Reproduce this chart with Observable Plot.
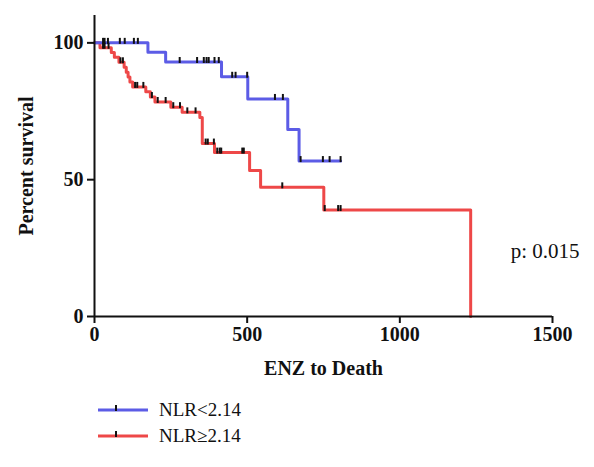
<!DOCTYPE html>
<html>
<head>
<meta charset="utf-8">
<script src="https://cdn.jsdelivr.net/npm/d3@7"></script>
<script src="https://cdn.jsdelivr.net/npm/@observablehq/plot@0.6"></script>
<style>
  html, body { margin: 0; padding: 0; background: #fff; }
  #chart { width: 594px; }
  .legend { font-family: "Liberation Serif", serif; font-size: 19px; color: #111; position: relative; height: 77px; }
  .item { position: absolute; left: 97px; display: flex; align-items: center; }
  .item svg { margin-right: 10px; }
</style>
</head>
<body>
<div id="chart"></div>
<script>
// Kaplan–Meier step data
const blueName = "NLR<2.14";
const redName = "NLR\u22652.14";
const blueTime = [0, 175, 233, 416, 502, 633, 670, 806];
const blueSurv = [100, 96.6, 93.0, 87.6, 79.5, 68.3, 56.8, 56.8];
const redTime = [0, 18, 55, 65, 80, 97, 104, 110, 116, 125, 168, 183, 198, 250, 287, 345, 353, 393, 508, 544, 751, 1232];
const redSurv = [100, 98.2, 96.5, 94.7, 92.9, 91.1, 89.3, 87.5, 85.7, 83.9, 82.1, 80.2, 78.4, 76.5, 74.6, 72.7, 63.2, 59.9, 53.4, 47.2, 38.9, 0];
// censored observations
const blueCensorTime = [28, 33, 44, 83, 99, 129, 142, 279, 336, 358, 367, 374, 393, 407, 451, 462, 500, 591, 617, 675, 748, 770, 806];
const blueCensorSurv = [100, 100, 100, 100, 100, 100, 100, 93.0, 93.0, 93.0, 93.0, 93.0, 93.0, 93.0, 87.6, 87.6, 87.6, 79.5, 79.5, 56.8, 56.8, 56.8, 56.8];
const redCensorTime = [28, 33, 46, 85, 93, 133, 140, 160, 188, 207, 233, 258, 280, 304, 331, 364, 371, 391, 402, 410, 415, 484, 489, 615, 754, 798, 806];
const redCensorSurv = [98.2, 98.2, 98.2, 92.9, 92.9, 83.9, 83.9, 83.9, 80.2, 78.4, 78.4, 76.5, 76.5, 74.6, 74.6, 63.2, 63.2, 63.2, 59.9, 59.9, 59.9, 59.9, 59.9, 47.2, 38.9, 38.9, 38.9];
const xTicks = [0, 500, 1000, 1500];
const yTicks = [0, 50, 100];
const pText = "p: 0.015";

const blueColor = "#5c5ce6";
const redColor = "#ee4848";

const blue = blueTime.map((t, i) => ({t, s: blueSurv[i]}));
const red = redTime.map((t, i) => ({t, s: redSurv[i]}));
const blueC = blueCensorTime.map((t, i) => ({t, s: blueCensorSurv[i]}));
const redC = redCensorTime.map((t, i) => ({t, s: redCensorSurv[i]}));

const tickSymbol = {
  draw(ctx, size) {
    ctx.moveTo(0, -5);
    ctx.lineTo(0, 1);
  }
};

const plot = Plot.plot({
  width: 594,
  height: 390,
  marginLeft: 94,
  marginRight: 42,
  marginTop: 15,
  marginBottom: 74,
  style: {fontFamily: "Liberation Serif, serif", fontSize: "20px", color: "#111", background: "#fff"},
  x: {domain: [0, 1500]},
  y: {domain: [0, 110]},
  marks: [
    Plot.line(red, {x: "t", y: "s", curve: "step-after", stroke: redColor, strokeWidth: 3}),
    Plot.line(blue, {x: "t", y: "s", curve: "step-after", stroke: blueColor, strokeWidth: 3}),
    Plot.dot(blueC, {x: "t", y: "s", symbol: tickSymbol, r: 3, stroke: "#111", strokeWidth: 2, fill: "none"}),
    Plot.dot(redC, {x: "t", y: "s", symbol: tickSymbol, r: 3, stroke: "#111", strokeWidth: 2, fill: "none"}),
    Plot.ruleX([0], {y1: 0, y2: 110, stroke: "#111", strokeWidth: 2}),
    Plot.ruleY([0], {x1: 0, x2: 1500, stroke: "#111", strokeWidth: 2}),
    Plot.axisX({ticks: xTicks, tickFormat: d => String(d), tickSize: 7, tickPadding: 3, strokeWidth: 2, stroke: "#111",
      fontWeight: "bold", label: "ENZ to Death", labelAnchor: "center", labelArrow: "none", labelOffset: 58}),
    Plot.axisY({ticks: yTicks, tickFormat: d => String(d), tickSize: 7, tickPadding: 4, strokeWidth: 2, stroke: "#111",
      fontWeight: "bold", label: "Percent survival", labelAnchor: "center", labelArrow: "none", labelOffset: 76}),
    Plot.text([pText], {x: [1363], y: [23.8], text: d => d, textAnchor: "start", fontSize: 21, fill: "#111"})
  ]
});
// bold axis labels
plot.querySelectorAll("g[aria-label='x-axis label'] text, g[aria-label='y-axis label'] text").forEach(t => t.setAttribute("font-weight", "bold"));
document.getElementById("chart").appendChild(plot);

function legendItem(name, color, top) {
  const div = document.createElement("div");
  div.className = "item";
  div.style.top = top + "px";
  div.innerHTML = `<svg width="52" height="12"><line x1="1" y1="6" x2="51" y2="6" stroke="${color}" stroke-width="3"/><line x1="19" y1="1" x2="19" y2="7" stroke="#111" stroke-width="2"/></svg><span>${name}</span>`;
  return div;
}
const leg = document.createElement("div");
leg.className = "legend";
leg.appendChild(legendItem(blueName, blueColor, 9));
leg.appendChild(legendItem(redName, redColor, 35));
document.getElementById("chart").appendChild(leg);
</script>
</body>
</html>
